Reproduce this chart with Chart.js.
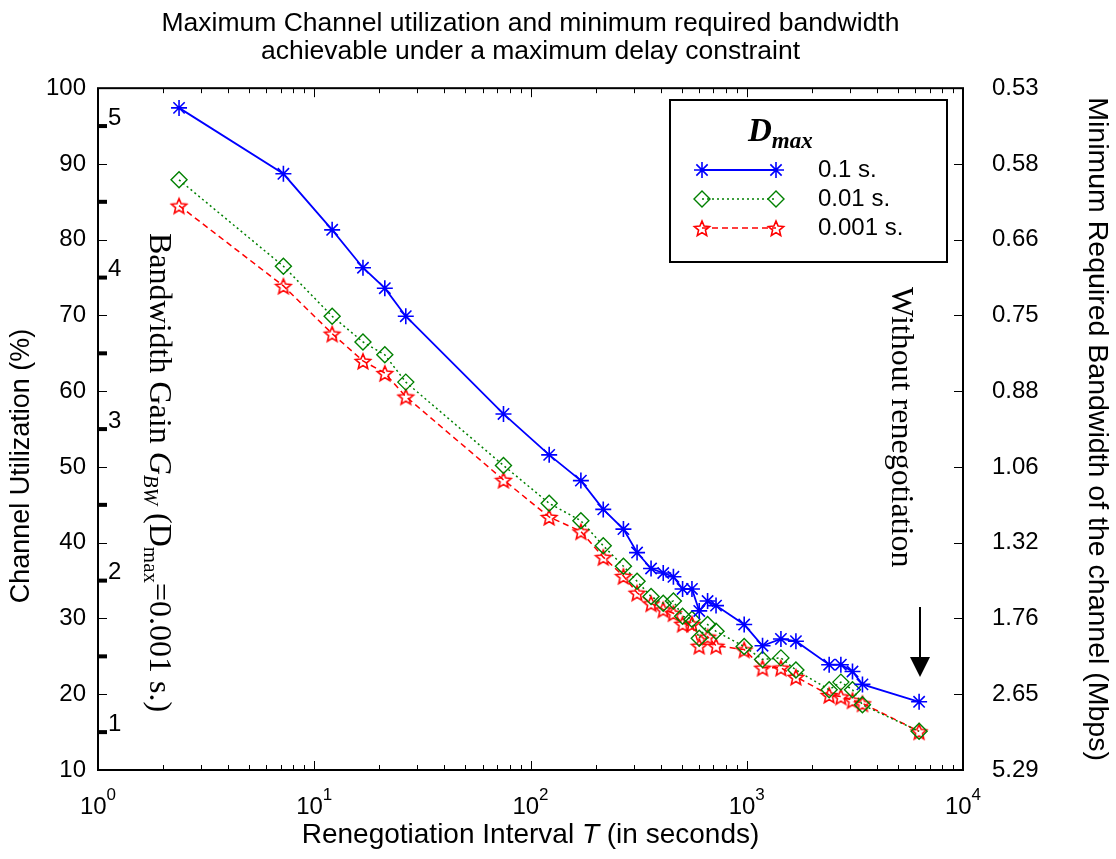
<!DOCTYPE html>
<html>
<head>
<meta charset="utf-8">
<script src="https://cdn.jsdelivr.net/npm/chart.js@4.4.1/dist/chart.umd.min.js"></script>
<style>
  html, body { margin: 0; padding: 0; background: #fff; }
  canvas { display: block; }
</style>
</head>
<body>
<canvas id="utilChart" width="1116" height="859"></canvas>
<script>
// renegotiation interval T (s), same grid for every delay bound
const intervals = [2.37, 7.2, 12.1, 16.8, 21.2, 26.5, 75, 122, 171, 217, 269, 311, 361, 411, 458, 505, 558, 603, 659, 721, 973, 1183, 1439, 1688, 2405, 2724, 3083, 3428, 6266];

// channel utilization (%) per delay bound
const utilD01 = [97.4, 88.7, 81.3, 76.3, 73.6, 69.9, 57.0, 51.6, 48.2, 44.4, 41.8, 38.7, 36.6, 36.0, 35.5, 33.9, 33.9, 31.0, 32.3, 31.7, 29.2, 26.4, 27.3, 27.0, 23.9, 23.9, 23.0, 21.3, 19.0];
const utilD001 = [87.9, 76.5, 69.9, 66.5, 64.8, 61.2, 50.2, 45.2, 42.9, 39.6, 36.9, 34.9, 32.9, 32.0, 32.3, 30.3, 29.9, 27.4, 29.2, 28.3, 26.3, 24.6, 24.8, 23.2, 20.6, 21.6, 20.6, 18.6, 15.1];
const utilD0001 = [84.5, 73.9, 67.6, 64.0, 62.4, 59.3, 48.3, 43.4, 41.5, 38.1, 35.6, 33.4, 32.0, 31.2, 30.7, 29.3, 29.3, 26.4, 27.6, 26.4, 25.9, 23.5, 23.5, 22.3, 19.9, 19.7, 19.2, 18.8, 15.1];

const delayLabels = ["0.1 s.", "0.01 s.", "0.001 s."];

// axis ticks
const utilTicks = [10, 20, 30, 40, 50, 60, 70, 80, 90, 100];
const bandwidthTicks = ["5.29", "2.65", "1.76", "1.32", "1.06", "0.88", "0.75", "0.66", "0.58", "0.53"];
const gainTicks = [15, 25, 35, 45, 55, 65, 75, 85, 95];
const gainLabels = ["1", "", "2", "", "3", "", "4", "", "5"];
const decades = [1, 10, 100, 1000, 10000];
const decadeExp = ["0", "1", "2", "3", "4"];

const SANS = '"Liberation Sans", Arial, Helvetica, sans-serif';
const SERIF = '"Liberation Serif", "Times New Roman", serif';

Chart.defaults.font.family = SANS;
Chart.defaults.color = "#000";

// hollow five-point star marker
function starMarker(color, r) {
  const c = document.createElement("canvas");
  const s = Math.ceil(r * 2 + 4);
  c.width = c.height = s;
  const g = c.getContext("2d");
  g.strokeStyle = color;
  g.lineWidth = 1.6;
  g.beginPath();
  for (let i = 0; i < 10; i++) {
    const rr = i % 2 ? r * 0.45 : r;
    const a = -Math.PI / 2 + (i * Math.PI) / 5;
    const px = s / 2 + rr * Math.cos(a);
    const py = s / 2 + 1 + rr * Math.sin(a);
    if (i === 0) g.moveTo(px, py);
    else g.lineTo(px, py);
  }
  g.closePath();
  g.stroke();
  return c;
}

const toPoints = (vals) => intervals.map((t, i) => ({ x: t, y: vals[i] }));

const datasets = [
  {
    label: delayLabels[0],
    data: toPoints(utilD01),
    borderColor: "#0000ff",
    borderWidth: 1.8,
    pointStyle: "star",
    pointRadius: 8,
    pointBorderWidth: 1.6,
    pointBorderColor: "#0000ff",
    pointBackgroundColor: "rgba(0,0,0,0)",
  },
  {
    label: delayLabels[1],
    data: toPoints(utilD001),
    borderColor: "#008000",
    borderWidth: 1.5,
    borderDash: [2, 3],
    pointStyle: "rectRot",
    pointRadius: 8,
    pointBorderWidth: 1.4,
    pointBorderColor: "#008000",
    pointBackgroundColor: "rgba(0,0,0,0)",
  },
  {
    label: delayLabels[2],
    data: toPoints(utilD0001),
    borderColor: "#ff0000",
    borderWidth: 1.5,
    borderDash: [6, 4],
    pointStyle: starMarker("#ff0000", 8),
    pointRadius: 8,
    pointBorderColor: "#ff0000",
    pointBackgroundColor: "rgba(0,0,0,0)",
  },
];

// draws a run of [text, font, dy] pieces from the current origin
function drawRun(ctx, pieces) {
  let cx = 0;
  pieces.forEach(([text, font, dy]) => {
    ctx.font = font;
    ctx.fillText(text, cx, dy || 0);
    cx += ctx.measureText(text).width;
  });
  return cx;
}
function runWidth(ctx, pieces) {
  let w = 0;
  pieces.forEach(([text, font]) => {
    ctx.font = font;
    w += ctx.measureText(text).width;
  });
  return w;
}

// frame, inward ticks, gain scale, legend and annotations
const decorations = {
  id: "decorations",
  afterDraw(chart) {
    const { ctx, chartArea: a, scales } = chart;
    const x = scales.x, y = scales.y;
    ctx.save();
    ctx.strokeStyle = "#000";
    ctx.fillStyle = "#000";

    // inward ticks on all four sides
    ctx.lineWidth = 1;
    ctx.beginPath();
    utilTicks.forEach((v) => {
      const py = Math.round(y.getPixelForValue(v)) + 0.5;
      ctx.moveTo(a.left, py);
      ctx.lineTo(a.left + 9, py);
      ctx.moveTo(a.right, py);
      ctx.lineTo(a.right - 9, py);
    });
    decades.slice(0, -1).forEach((d) => {
      for (let k = 1; k < 10; k++) {
        const px = Math.round(x.getPixelForValue(d * k)) + 0.5;
        const len = k === 1 ? 9 : 5;
        ctx.moveTo(px, a.bottom);
        ctx.lineTo(px, a.bottom - len);
        ctx.moveTo(px, a.top);
        ctx.lineTo(px, a.top + len);
      }
    });
    ctx.stroke();

    ctx.lineWidth = 2;
    ctx.strokeRect(a.left, a.top, a.right - a.left, a.bottom - a.top);

    // bandwidth gain scale inside the left axis
    ctx.font = "24px " + SANS;
    ctx.textAlign = "left";
    ctx.textBaseline = "middle";
    gainTicks.forEach((v, i) => {
      const py = y.getPixelForValue(v);
      ctx.fillRect(a.left, py - 2, 9, 4);
      if (gainLabels[i]) ctx.fillText(gainLabels[i], a.left + 10, py - 8);
    });

    // x tick labels 10^n
    ctx.textBaseline = "alphabetic";
    decades.forEach((d, i) => {
      const px = x.getPixelForValue(d);
      const pieces = [["10", "24px " + SANS, 0], [decadeExp[i], "17px " + SANS, -14]];
      const w = runWidth(ctx, pieces);
      ctx.save();
      ctx.translate(px - w / 2, 814);
      drawRun(ctx, pieces);
      ctx.restore();
    });

    // x axis title
    const xTitle = [
      ["Renegotiation Interval ", "28px " + SANS],
      ["T", "italic 28px " + SANS],
      [" (in seconds)", "28px " + SANS],
    ];
    const xw = runWidth(ctx, xTitle);
    ctx.save();
    ctx.translate((a.left + a.right) / 2 - xw / 2, 843);
    drawRun(ctx, xTitle);
    ctx.restore();

    // left axis title
    ctx.save();
    ctx.translate(22, 466);
    ctx.rotate(-Math.PI / 2);
    ctx.textAlign = "center";
    ctx.textBaseline = "middle";
    ctx.font = "27px " + SANS;
    ctx.fillText("Channel Utilization (%)", 0, 0);
    ctx.restore();

    // rotated annotation for the gain scale
    ctx.save();
    ctx.translate(150, 233);
    ctx.rotate(Math.PI / 2);
    drawRun(ctx, [
      ["Bandwidth Gain ", "32px " + SERIF],
      ["G", "italic 32px " + SERIF],
      ["BW", "italic 21px " + SERIF, 6],
      [" (D", "32px " + SERIF],
      ["max", "21px " + SERIF, 6],
      ["=0.001 s.)", "32px " + SERIF],
    ]);
    ctx.restore();

    // case with no renegotiation
    ctx.save();
    ctx.translate(892, 287);
    ctx.rotate(Math.PI / 2);
    ctx.font = "32px " + SERIF;
    ctx.fillText("Without renegotiation", 0, 0);
    ctx.restore();

    ctx.lineWidth = 2;
    ctx.beginPath();
    ctx.moveTo(920, 607);
    ctx.lineTo(920, 660);
    ctx.stroke();
    ctx.beginPath();
    ctx.moveTo(910, 657);
    ctx.lineTo(930, 657);
    ctx.lineTo(920, 677);
    ctx.closePath();
    ctx.fill();

    // legend box
    const lg = { left: 670, top: 100, w: 277, h: 162 };
    ctx.fillStyle = "#fff";
    ctx.fillRect(lg.left, lg.top, lg.w, lg.h);
    ctx.strokeStyle = "#000";
    ctx.lineWidth = 2;
    ctx.strokeRect(lg.left, lg.top, lg.w, lg.h);

    ctx.fillStyle = "#000";
    ctx.save();
    ctx.translate(748, 141);
    drawRun(ctx, [
      ["D", "bold italic 33px " + SERIF],
      ["max", "bold italic 23px " + SERIF, 7],
    ]);
    ctx.restore();

    const rows = [170, 199, 228];
    chart.data.datasets.forEach((ds, i) => {
      const ry = rows[i];
      ctx.save();
      ctx.strokeStyle = ds.borderColor;
      ctx.lineWidth = ds.borderWidth;
      ctx.setLineDash(ds.borderDash || []);
      ctx.beginPath();
      ctx.moveTo(702, ry);
      ctx.lineTo(776, ry);
      ctx.stroke();
      ctx.setLineDash([]);
      const style = {
        pointStyle: ds.pointStyle,
        radius: ds.pointRadius,
        borderWidth: ds.pointBorderWidth || 1.5,
        rotation: 0,
      };
      ctx.fillStyle = ds.pointBackgroundColor;
      ctx.strokeStyle = ds.pointBorderColor;
      ctx.lineWidth = style.borderWidth;
      Chart.helpers.drawPoint(ctx, style, 702, ry);
      Chart.helpers.drawPoint(ctx, style, 776, ry);
      ctx.restore();

      ctx.font = "24px " + SANS;
      ctx.textAlign = "left";
      ctx.textBaseline = "middle";
      ctx.fillStyle = "#000";
      ctx.fillText(ds.label, 818, ry);
    });

    ctx.restore();
  },
};

new Chart(document.getElementById("utilChart"), {
  type: "line",
  data: { datasets },
  options: {
    responsive: false,
    animation: false,
    devicePixelRatio: 1,
    layout: { padding: 0 },
    plugins: {
      legend: { display: false },
      tooltip: { enabled: false },
      title: {
        display: true,
        fullSize: false,
        text: [
          "Maximum Channel utilization and minimum required bandwidth",
          "achievable under a maximum delay constraint",
        ],
        font: { size: 26.5, weight: "normal", lineHeight: 1.06 },
        color: "#000",
        padding: { top: 10, bottom: 22 },
      },
    },
    scales: {
      x: {
        type: "logarithmic",
        min: 1,
        max: 10000,
        grid: { display: false, drawTicks: false },
        border: { display: false },
        ticks: { display: false },
        afterFit: (s) => { s.height = 89; },
      },
      y: {
        position: "left",
        min: 10,
        max: 100,
        grid: { display: false, drawTicks: false },
        border: { display: false },
        ticks: {
          stepSize: 10,
          padding: 12,
          font: { size: 24 },
          color: "#000",
        },
        afterFit: (s) => { s.width = 98; },
      },
      y2: {
        position: "right",
        min: 10,
        max: 100,
        grid: { display: false, drawTicks: false },
        border: { display: false },
        ticks: {
          stepSize: 10,
          padding: 29,
          font: { size: 24 },
          color: "#000",
          callback: (v) => {
            const i = utilTicks.indexOf(v);
            return i >= 0 ? bandwidthTicks[i] : "";
          },
        },
        title: {
          display: true,
          text: "Minimum Required Bandwidth of the channel (Mbps)",
          font: { size: 28.5 },
          color: "#000",
          padding: { top: 2, bottom: 0 },
        },
        afterFit: (s) => { s.width = 153; },
      },
    },
  },
  plugins: [decorations],
});
</script>
</body>
</html>
